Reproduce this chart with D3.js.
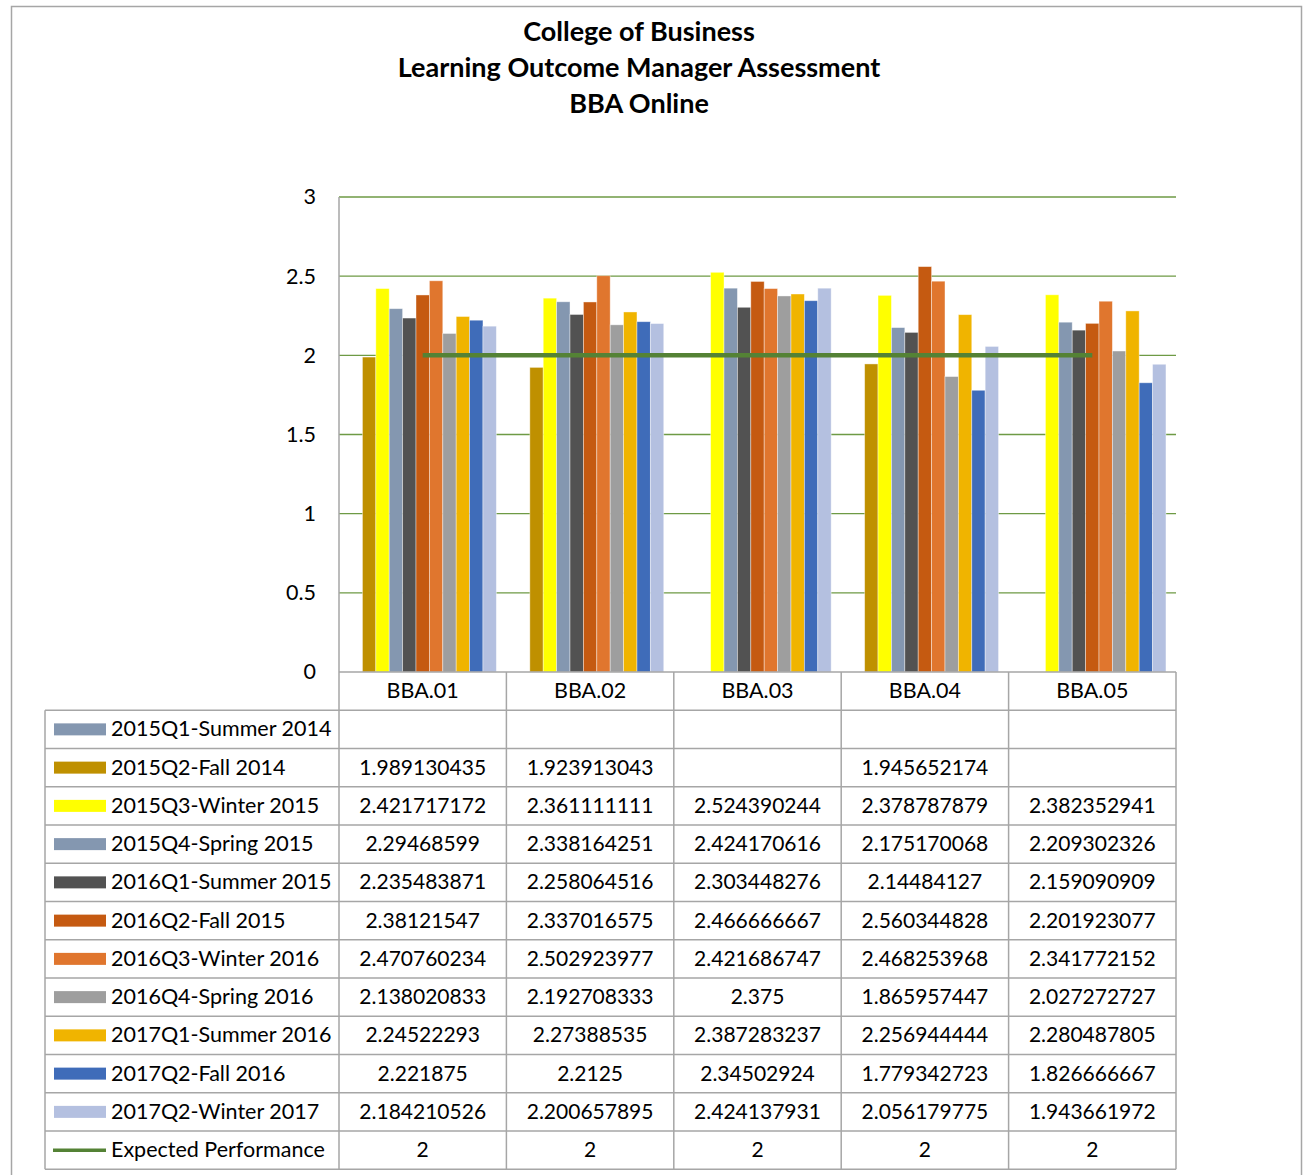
<!DOCTYPE html>
<html><head><meta charset="utf-8">
<script src="https://cdn.jsdelivr.net/npm/d3@7"></script>
<style>
html,body{margin:0;padding:0;background:#fff;}
svg{display:block;}
text{font-family:Lato,"Open Sans",sans-serif;fill:#000;}
</style></head>
<body>
<svg id="chart" width="1304" height="1175"></svg>
<script>
const titleLines = ["College of Business","Learning Outcome Manager Assessment","BBA Online"];
const categories = ["BBA.01","BBA.02","BBA.03","BBA.04","BBA.05"];
const seriesNames = ["2015Q1-Summer 2014","2015Q2-Fall 2014","2015Q3-Winter 2015","2015Q4-Spring 2015","2016Q1-Summer 2015","2016Q2-Fall 2015","2016Q3-Winter 2016","2016Q4-Spring 2016","2017Q1-Summer 2016","2017Q2-Fall 2016","2017Q2-Winter 2017"];
const seriesColors = ["#8497B0","#BF9000","#FFFF00","#8497B0","#525252","#C55A11","#E0762E","#9E9E9E","#F0B400","#3F6CB9","#B4C0E0"];
const s2015Q1 = [null,null,null,null,null];
const s2015Q2 = [1.989130435,1.923913043,null,1.945652174,null];
const s2015Q3 = [2.421717172,2.361111111,2.524390244,2.378787879,2.382352941];
const s2015Q4 = [2.29468599,2.338164251,2.424170616,2.175170068,2.209302326];
const s2016Q1 = [2.235483871,2.258064516,2.303448276,2.14484127,2.159090909];
const s2016Q2 = [2.38121547,2.337016575,2.466666667,2.560344828,2.201923077];
const s2016Q3 = [2.470760234,2.502923977,2.421686747,2.468253968,2.341772152];
const s2016Q4 = [2.138020833,2.192708333,2.375,1.865957447,2.027272727];
const s2017Q1 = [2.24522293,2.27388535,2.387283237,2.256944444,2.280487805];
const s2017Q2F = [2.221875,2.2125,2.34502924,1.779342723,1.826666667];
const s2017Q2W = [2.184210526,2.200657895,2.424137931,2.056179775,1.943661972];
const expected = [2,2,2,2,2];
const expectedName = "Expected Performance";
const expectedColor = "#548235";
const yTicks = [0,0.5,1,1.5,2,2.5,3];
const seriesValues = [s2015Q1,s2015Q2,s2015Q3,s2015Q4,s2016Q1,s2016Q2,s2016Q3,s2016Q4,s2017Q1,s2017Q2F,s2017Q2W];

const svg = d3.select("#chart");
const L = 339, R = 1176, T = 197, B = 672;
const tableLeft = 45;
const rowH = (1168 - 709) / 12;
const gridColor = "#6E9A45";
const borderColor = "#A6A6A6";

// outer frame
svg.append("rect").attr("x",11.5).attr("y",6.5).attr("width",1290).attr("height",1200)
  .attr("fill","#fff").attr("stroke",borderColor).attr("stroke-width",1.5);

// title
svg.append("g").selectAll("text").data(titleLines).join("text")
  .attr("x",639).attr("y",(d,i)=>41+i*36).attr("text-anchor","middle")
  .attr("font-weight","bold").attr("font-size",27).text(d=>d);

const y = d3.scaleLinear().domain([0,3]).range([B,T]);
const x0 = d3.scaleBand().domain(categories).range([L,R]);
const x1 = d3.scaleBand().domain(seriesNames).range([0,x0.bandwidth()]).paddingInner(0).paddingOuter(0.75);

// gridlines
svg.append("g").selectAll("line").data(yTicks.filter(t=>t>0)).join("line")
  .attr("x1",L).attr("x2",R).attr("y1",d=>y(d)).attr("y2",d=>y(d))
  .attr("stroke",gridColor).attr("stroke-width",1.3);

// y axis labels
const yAxis = d3.axisLeft(y).tickValues(yTicks).tickSize(0).tickPadding(0).tickFormat(d3.format("~g"));
const yg = svg.append("g").attr("transform",`translate(${L-23},0)`).call(yAxis);
yg.select(".domain").remove();
yg.selectAll("text").attr("font-size",21.5).attr("font-family","Lato,sans-serif").attr("fill","#000");

// bars
const barData = [];
seriesValues.forEach((vals,si)=>vals.forEach((v,ci)=>{ if(v!=null) barData.push({s:seriesNames[si],c:categories[ci],v,color:seriesColors[si]}); }));
svg.append("g").selectAll("rect").data(barData).join("rect")
  .attr("x",d=>x0(d.c)+x1(d.s)).attr("width",x1.bandwidth())
  .attr("y",d=>y(d.v)).attr("height",d=>y(0)-y(d.v))
  .attr("fill",d=>d.color).attr("stroke","rgba(255,255,255,0.5)").attr("stroke-width",0.8);

// axis line
svg.append("line").attr("x1",L).attr("x2",L).attr("y1",T).attr("y2",B)
  .attr("stroke",borderColor).attr("stroke-width",1.5);

// expected line
const line = d3.line().x((d,i)=>x0(categories[i])+x0.bandwidth()/2).y(d=>y(d));
svg.append("path").datum(expected).attr("d",line).attr("fill","none")
  .attr("stroke",expectedColor).attr("stroke-width",4.5);

// table
const tg = svg.append("g");
const nRows = seriesNames.length + 1;
const tableTop = B + rowH;
tg.append("line").attr("x1",L).attr("x2",R).attr("y1",B).attr("y2",B).attr("stroke",borderColor).attr("stroke-width",1.5);
d3.range(nRows+1).forEach(i=>{
  tg.append("line").attr("x1",tableLeft).attr("x2",R).attr("y1",tableTop+i*rowH).attr("y2",tableTop+i*rowH)
    .attr("stroke",borderColor).attr("stroke-width",1.5);
});
tg.append("line").attr("x1",tableLeft).attr("x2",tableLeft).attr("y1",tableTop).attr("y2",tableTop+nRows*rowH).attr("stroke",borderColor).attr("stroke-width",1.5);
categories.concat([null]).forEach((c,i)=>{
  const xx = i<categories.length ? x0(c) : R;
  tg.append("line").attr("x1",xx).attr("x2",xx).attr("y1",B).attr("y2",tableTop+nRows*rowH)
    .attr("stroke",borderColor).attr("stroke-width",1.5);
});
tg.selectAll("text.hdr").data(categories).join("text").attr("class","hdr")
  .attr("x",d=>x0(d)+x0.bandwidth()/2).attr("y",B+rowH/2+7).attr("text-anchor","middle")
  .attr("font-size",21.5).text(d=>d);
const rows = seriesNames.map((n,i)=>({name:n,color:seriesColors[i],vals:seriesValues[i],line:false}))
  .concat([{name:expectedName,color:expectedColor,vals:expected,line:true}]);
rows.forEach((r,i)=>{
  const cy = tableTop + i*rowH + rowH/2;
  if(r.line){
    tg.append("line").attr("x1",53).attr("x2",106).attr("y1",cy).attr("y2",cy).attr("stroke",r.color).attr("stroke-width",3.5);
  } else {
    tg.append("rect").attr("x",54).attr("y",cy-6).attr("width",52).attr("height",12).attr("fill",r.color);
  }
  tg.append("text").attr("x",111).attr("y",cy+7).attr("font-size",21.5).text(r.name);
  r.vals.forEach((v,ci)=>{
    if(v==null) return;
    tg.append("text").attr("x",x0(categories[ci])+x0.bandwidth()/2).attr("y",cy+7)
      .attr("text-anchor","middle").attr("font-size",21).text(String(v));
  });
});
</script>
</body></html>
